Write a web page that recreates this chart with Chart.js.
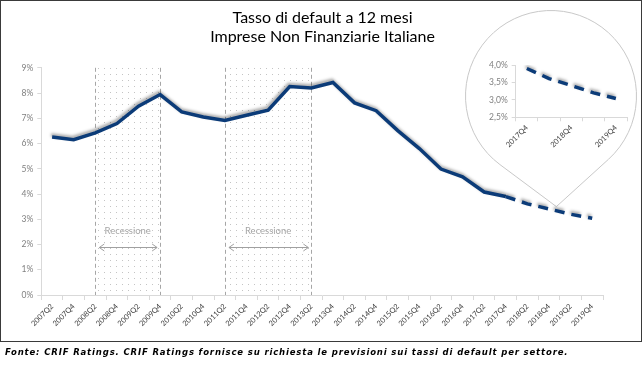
<!DOCTYPE html>
<html lang="it">
<head>
<meta charset="utf-8">
<title>Tasso di default a 12 mesi</title>
<script src="https://cdn.jsdelivr.net/npm/chart.js@4.4.1/dist/chart.umd.min.js"></script>
<style>
    html, body { margin: 0; padding: 0; background: #fff; }
    body { width: 643px; height: 369px; position: relative; overflow: hidden; }
    #main { position: absolute; left: 0; top: 0; }
    #inset { position: absolute; left: 465px; top: 55px; }
    #frame {
        position: absolute; left: 0; top: 0; width: 642px; height: 342px;
        border: 1px solid #3a3a3a; box-sizing: border-box; pointer-events: none;
    }
    #source {
        position: absolute; left: 5px; top: 347px;
        font: italic bold 8.5px "DejaVu Sans"; letter-spacing: 0.85px;
        color: #000; white-space: nowrap;
    }
</style>
</head>
<body>
<canvas id="main" width="643" height="342"></canvas>
<canvas id="inset" width="170" height="100"></canvas>
<div id="frame"></div>
<div id="source">Fonte: CRIF Ratings. CRIF Ratings fornisce su richiesta le previsioni sui tassi di default per settore.</div>

<script>
// Periodi (semestrali)
const periods = [
    '2007Q2', '2007Q4', '2008Q2', '2008Q4', '2009Q2', '2009Q4', '2010Q2',
    '2010Q4', '2011Q2', '2011Q4', '2012Q2', '2012Q4', '2013Q2', '2013Q4',
    '2014Q2', '2014Q4', '2015Q2', '2015Q4', '2016Q2', '2016Q4', '2017Q2',
    '2017Q4', '2018Q2', '2018Q4', '2019Q2', '2019Q4'
];

// Tasso di default a 12 mesi (%)
const defaultRates = [
    6.26, 6.15, 6.42, 6.79, 7.48, 7.94, 7.25,
    7.05, 6.91, 7.12, 7.32, 8.26, 8.20, 8.42,
    7.61, 7.30, 6.51, 5.80, 4.99, 4.68, 4.08,
    3.90, 3.61, 3.41, 3.20, 3.04
];

// Da questo periodo in poi: previsioni (linea tratteggiata)
const forecastStart = '2017Q4';

// Periodi di recessione
const recessionStart = ['2008Q2', '2011Q2'];
const recessionEnd = ['2009Q4', '2013Q2'];
const recessionLabel = 'Recessione';

// Etichette mostrate nello zoom
const insetTickLabels = ['2017Q4', '2018Q4', '2019Q4'];

const titleLines = ['Tasso di default a 12 mesi', 'Imprese Non Finanziarie Italiane'];

const forecastIdx = periods.indexOf(forecastStart);
const insetPeriods = periods.slice(forecastIdx);
const insetRates = defaultRates.slice(forecastIdx);

const LINE_COLOR = '#0b3b78';
const AXIS_COLOR = '#d9d9d9';
const FONT = 'Lato';

/**
 * Soft shadow under the series line
 */
const shadowPlugin = {
    id: 'lineShadow',
    beforeDatasetDraw(chart) {
        const ctx = chart.ctx;
        ctx.save();
        ctx.shadowColor = 'rgba(0, 0, 0, 0.35)';
        ctx.shadowBlur = 3;
        ctx.shadowOffsetX = -1;
        ctx.shadowOffsetY = -2;
    },
    afterDatasetDraw(chart) {
        chart.ctx.restore();
    }
};

function dotPattern(ctx) {
    const tile = document.createElement('canvas');
    tile.width = 6;
    tile.height = 6;
    const t = tile.getContext('2d');
    t.fillStyle = '#c4c4c4';
    t.fillRect(2, 2, 1, 1);
    return ctx.createPattern(tile, 'repeat');
}

/**
 * Dotted recession bands with dashed borders, label and arrow
 */
const recessionPlugin = {
    id: 'recessions',
    beforeDatasetsDraw(chart) {
        const { ctx, chartArea, scales: { x, y } } = chart;
        const pattern = dotPattern(ctx);

        recessionStart.forEach((start, i) => {
            const x0 = x.getPixelForValue(periods.indexOf(start));
            const x1 = x.getPixelForValue(periods.indexOf(recessionEnd[i]));
            const top = chartArea.top;
            const bottom = chartArea.bottom;

            ctx.save();
            ctx.fillStyle = pattern;
            ctx.fillRect(x0, top, x1 - x0, bottom - top);

            ctx.strokeStyle = '#a6a6a6';
            ctx.lineWidth = 1;
            ctx.setLineDash([4, 3]);
            [x0, x1].forEach(px => {
                ctx.beginPath();
                ctx.moveTo(Math.round(px) + 0.5, top);
                ctx.lineTo(Math.round(px) + 0.5, bottom);
                ctx.stroke();
            });
            ctx.setLineDash([]);

            // label
            ctx.fillStyle = '#a6a6a6';
            ctx.font = `9.5px ${FONT}`;
            ctx.textAlign = 'center';
            ctx.textBaseline = 'middle';
            ctx.fillText(recessionLabel, (x0 + x1) / 2, y.getPixelForValue(2.55));

            // double-headed arrow
            const ay = Math.round(y.getPixelForValue(1.92)) + 0.5;
            const ax0 = x0 + 4;
            const ax1 = x1 - 3;
            ctx.strokeStyle = '#a0a0a0';
            ctx.beginPath();
            ctx.moveTo(ax0, ay);
            ctx.lineTo(ax1, ay);
            ctx.moveTo(ax0 + 5, ay - 3.5);
            ctx.lineTo(ax0, ay);
            ctx.lineTo(ax0 + 5, ay + 3.5);
            ctx.moveTo(ax1 - 5, ay - 3.5);
            ctx.lineTo(ax1, ay);
            ctx.lineTo(ax1 - 5, ay + 3.5);
            ctx.stroke();
            ctx.restore();
        });
    }
};

/**
 * Teardrop callout that frames the zoomed forecast
 */
const calloutPlugin = {
    id: 'callout',
    beforeDatasetsDraw(chart) {
        const { ctx, scales: { x, y } } = chart;
        const idx = periods.indexOf('2018Q4');
        const tipX = x.getPixelForValue(idx) + 7.4;
        const tipY = y.getPixelForValue(defaultRates[idx]) - 2.3;
        const cx = 551;
        const cy = 96;
        const r = 85.5;

        const dx = tipX - cx;
        const dy = tipY - cy;
        const d = Math.hypot(dx, dy);
        const base = Math.atan2(dy, dx);
        const spread = Math.acos(r / d);

        ctx.save();
        ctx.beginPath();
        ctx.arc(cx, cy, r, base - spread, base + spread, true);
        ctx.lineTo(tipX, tipY);
        ctx.closePath();
        ctx.fillStyle = '#fff';
        ctx.fill();
        ctx.strokeStyle = '#c8c8c8';
        ctx.lineWidth = 1;
        ctx.stroke();
        ctx.restore();
    }
};

const mainChart = new Chart(document.getElementById('main'), {
    type: 'line',
    data: {
        labels: periods,
        datasets: [{
            data: defaultRates,
            borderColor: LINE_COLOR,
            borderWidth: 3.5,
            pointRadius: 0,
            tension: 0,
            fill: false,
            segment: {
                borderDash: c => (c.p0DataIndex >= forecastIdx ? [10, 7] : undefined)
            }
        }]
    },
    options: {
        responsive: false,
        animation: false,
        events: [],
        layout: { padding: { left: 2, right: 0, top: 0, bottom: 0 } },
        plugins: {
            legend: { display: false },
            tooltip: { enabled: false },
            title: {
                display: true,
                text: titleLines,
                color: '#000',
                font: { family: FONT, size: 16, weight: 'normal', lineHeight: 1.15 },
                padding: { top: 9, bottom: 22 }
            }
        },
        scales: {
            x: {
                offset: true,
                grid: { offset: true, drawOnChartArea: false, color: AXIS_COLOR, tickLength: 5 },
                border: { color: AXIS_COLOR },
                ticks: {
                    autoSkip: false,
                    minRotation: 45,
                    maxRotation: 45,
                    color: '#404040',
                    font: { family: FONT, size: 7.5 },
                    padding: 2
                },
                afterFit(scale) { scale.height = 47; }
            },
            y: {
                min: 0,
                max: 9,
                ticks: {
                    stepSize: 1,
                    callback: v => v + '%',
                    color: '#808080',
                    font: { family: FONT, size: 8.5 },
                    padding: 4
                },
                grid: { drawOnChartArea: false, color: AXIS_COLOR, tickLength: 4 },
                border: { color: AXIS_COLOR },
                afterFit(scale) { scale.width = 39.3; }
            },
            // empty right gutter, keeps the title centred on the whole frame
            gutter: {
                type: 'linear',
                position: 'right',
                ticks: { display: false },
                grid: { display: false },
                border: { display: false },
                afterFit(scale) { scale.width = 40; }
            }
        }
    },
    plugins: [recessionPlugin, calloutPlugin, shadowPlugin]
});

const insetChart = new Chart(document.getElementById('inset'), {
    type: 'line',
    data: {
        labels: insetPeriods,
        datasets: [{
            data: insetRates,
            borderColor: LINE_COLOR,
            borderWidth: 3.5,
            borderDash: [10, 7],
            pointRadius: 0,
            tension: 0,
            fill: false
        }]
    },
    options: {
        responsive: false,
        animation: false,
        events: [],
        layout: { padding: { left: 0, right: 8, top: 10, bottom: 0 } },
        plugins: {
            legend: { display: false },
            tooltip: { enabled: false }
        },
        scales: {
            x: {
                offset: true,
                grid: { offset: true, drawOnChartArea: false, color: AXIS_COLOR, tickLength: 4 },
                border: { color: AXIS_COLOR },
                ticks: {
                    autoSkip: false,
                    minRotation: 45,
                    maxRotation: 45,
                    color: '#404040',
                    font: { family: FONT, size: 7.5 },
                    padding: 2,
                    callback(v) {
                        const label = this.getLabelForValue(v);
                        return insetTickLabels.includes(label) ? label : '';
                    }
                },
                afterFit(scale) { scale.height = 37.7; }
            },
            y: {
                min: 2.5,
                max: 4,
                ticks: {
                    stepSize: 0.5,
                    callback: v => v.toFixed(1).replace('.', ',') + '%',
                    color: '#808080',
                    font: { family: FONT, size: 8.5 },
                    padding: 4
                },
                grid: { drawOnChartArea: false, color: AXIS_COLOR, tickLength: 4 },
                border: { color: AXIS_COLOR },
                afterFit(scale) { scale.width = 50.7; }
            }
        }
    },
    plugins: [shadowPlugin]
});
</script>
</body>
</html>
